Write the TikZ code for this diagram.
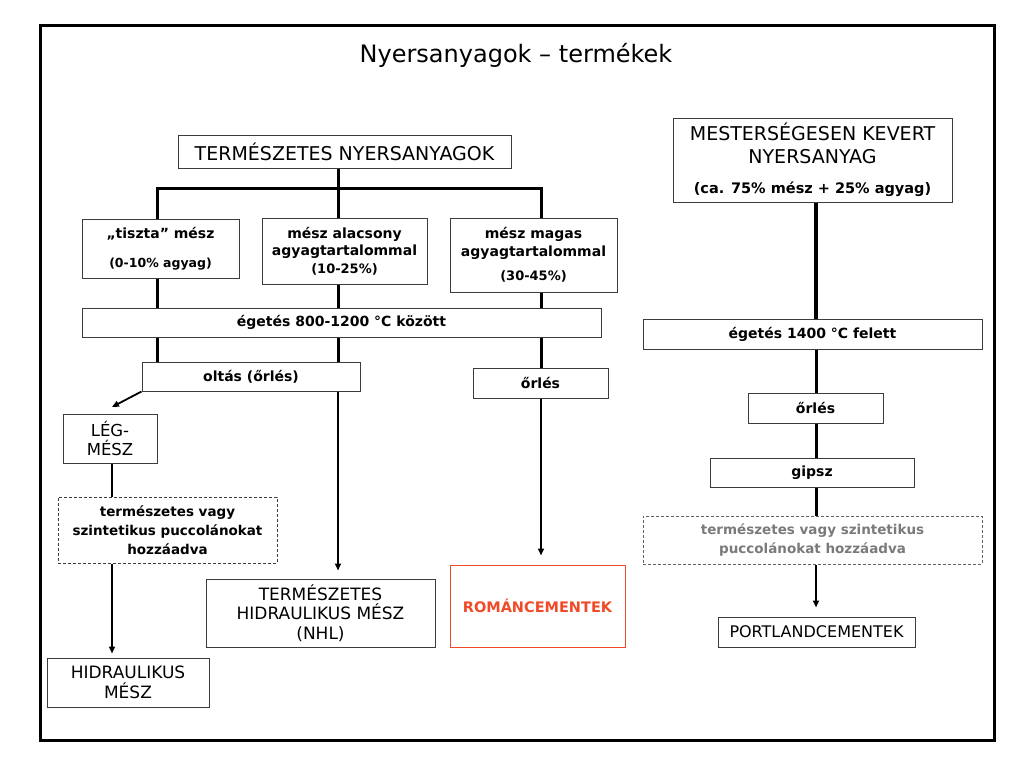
\documentclass[tikz,border=0pt]{standalone}
\usepackage{fontspec}
\setmainfont{DejaVu Sans}
\usetikzlibrary{arrows.meta}
\definecolor{boxgray}{HTML}{3C3C3C}
\definecolor{romred}{HTML}{F04A28}
\definecolor{txtgray}{HTML}{7A7A7A}
\begin{document}
\begin{tikzpicture}[x=1pt,y=-1pt,
  box/.style={draw=boxgray, line width=1pt, inner sep=0pt, align=center, anchor=center},
  dbox/.style={box, dash pattern=on 3pt off 2pt},
  capsf/.style={font=\fontsize{19}{23}\selectfont},
  lowf/.style={font=\bfseries\fontsize{14}{17.5}\selectfont},
  thk/.style={line width=3pt},
  vthk/.style={line width=4pt},
  med/.style={line width=2pt},
  arr/.style={line width=1.8pt, -{Triangle[length=7pt,width=6pt]}},
]
\useasboundingbox (0,0) rectangle (1024,768);
\draw[line width=3pt] (40.5,25.5) rectangle (994.5,740.5);

\node (title) at (516,55) {\fontsize{24}{28}\selectfont Nyersanyagok – termékek};

% column x positions
\coordinate (c1) at (157,0);
\coordinate (c2) at (338,0);
\coordinate (c3) at (541,0);
\coordinate (c4) at (816,0);
\coordinate (cL) at (112,0);
\coordinate (barc) at (0,188);
\coordinate (lgtip) at (112,407);

% left part
\node[box, capsf, minimum width=333, minimum height=33] (tn) at (344.5,151.5) {TERMÉSZETES NYERSANYAGOK};
\node[box, lowf, minimum width=157, minimum height=59] (b1) at (160.5,248.5)
  {„tiszta” mész\\[12pt]{\fontsize{12.5}{15}\selectfont (0-10\% agyag)}};
\node[box, lowf, minimum width=165, minimum height=66] (b2) at (344.5,251)
  {mész alacsony\\agyagtartalommal\\{\fontsize{13}{15}\selectfont (10-25\%)}};
\node[box, lowf, minimum width=167, minimum height=74] (b3) at (533.5,255)
  {mész magas\\agyagtartalommal\\[7pt]{\fontsize{13}{15}\selectfont (30-45\%)}};
\node[box, lowf, minimum width=519, minimum height=29] (eg) at (341.5,322.5) {égetés 800-1200 °C között};
\node[box, lowf, minimum width=218, minimum height=29] (ol) at (251,376.5) {oltás (őrlés)};
\node[box, lowf, minimum width=135, minimum height=30] (or1) at (540.5,383) {őrlés};
\node[box, font=\fontsize{16.5}{19.5}\selectfont, minimum width=94, minimum height=49] (lg) at (110,438.5) {LÉG-\\MÉSZ};
\node[dbox, font=\bfseries\fontsize{13.5}{19}\selectfont, minimum width=219, minimum height=66] (ds) at (167.5,530)
  {természetes vagy\\szintetikus puccolánokat\\hozzáadva};
\node[box, font=\fontsize{17}{20}\selectfont, minimum width=162, minimum height=49] (hm) at (128,682.5) {HIDRAULIKUS\\MÉSZ};
\node[box, font=\fontsize{17}{19.5}\selectfont, minimum width=229, minimum height=68] (nhl) at (320.5,613)
  {TERMÉSZETES\\HIDRAULIKUS MÉSZ\\(NHL)};
\node[box, draw=romred, text=romred, font=\bfseries\fontsize{14.5}{17}\selectfont, minimum width=175, minimum height=82] (rom) at (537.5,606) {ROMÁNCEMENTEK};

% right part
\node[box, capsf, minimum width=279, minimum height=84] (mk) at (812.5,160)
  {MESTERSÉGESEN KEVERT\\NYERSANYAG\\[7pt]{\bfseries\fontsize{14.5}{17}\selectfont (ca. 75\% mész + 25\% agyag)}};
\node[box, lowf, minimum width=339, minimum height=30] (eg2) at (812.5,334) {égetés 1400 °C felett};
\node[box, lowf, minimum width=135, minimum height=30] (or2) at (815.5,408) {őrlés};
\node[box, lowf, minimum width=204, minimum height=29] (gp) at (812,472.5) {gipsz};
\node[dbox, draw=txtgray!80!black, text=txtgray, font=\bfseries\fontsize{13.5}{19}\selectfont, minimum width=339, minimum height=48] (ds2) at (812.5,540)
  {természetes vagy szintetikus\\puccolánokat hozzáadva};
\node[box, font=\fontsize{16}{19}\selectfont, minimum width=197, minimum height=30] (pc) at (816.5,632) {PORTLANDCEMENTEK};

% connectors, left tree
\draw[thk] (tn.south -| c2) -- (b2.north -| c2);
\draw[thk] (b1.north -| c1) -- (c1 |- barc) -- (c3 |- barc) -- (b3.north -| c3);
\draw[thk] (b1.south -| c1) -- (eg.north -| c1);
\draw[thk] (b2.south -| c2) -- (eg.north -| c2);
\draw[thk] (b3.south -| c3) -- (eg.north -| c3);
\draw[thk] (eg.south -| c1) -- (ol.north -| c1);
\draw[thk] (eg.south -| c2) -- (ol.north -| c2);
\draw[thk] (eg.south -| c3) -- (or1.north -| c3);
\draw[arr] (ol.south west) -- (lgtip);
\draw[med] (lg.south -| cL) -- (ds.north -| cL);
\draw[arr, shorten >=4pt] (ds.south -| cL) -- (hm.north -| cL);
\draw[arr, shorten >=8pt] (ol.south -| c2) -- (nhl.north -| c2);
\draw[arr, shorten >=9pt] (or1.south -| c3) -- (rom.north -| c3);

% connectors, right column
\draw[vthk] (mk.south -| c4) -- (eg2.north -| c4);
\draw[thk] (eg2.south -| c4) -- (or2.north -| c4);
\draw[thk] (or2.south -| c4) -- (gp.north -| c4);
\draw[thk] (gp.south -| c4) -- (ds2.north -| c4);
\draw[arr, shorten >=9pt] (ds2.south -| c4) -- (pc.north -| c4);
\end{tikzpicture}
\end{document}
